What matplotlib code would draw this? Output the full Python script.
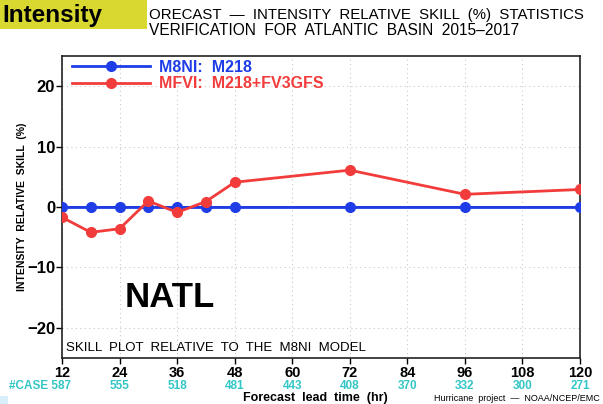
import matplotlib
matplotlib.use("Agg")
import matplotlib.pyplot as plt
from matplotlib.patches import Rectangle

plt.rcParams['font.family'] = ['Liberation Sans', 'DejaVu Sans']

lead_m8ni = [12, 18, 24, 30, 36, 42, 48, 72, 96, 120]
skill_m8ni = [0, 0, 0, 0, 0, 0, 0, 0, 0, 0]
lead_mfvi = [12, 18, 24, 30, 36, 42, 48, 72, 96, 120]
skill_mfvi = [-1.7, -4.2, -3.6, 1.0, -0.9, 0.9, 4.1, 6.1, 2.1, 2.9]
xticks = [12, 24, 36, 48, 60, 72, 84, 96, 108, 120]
cases = ["587", "555", "518", "481", "443", "408", "370", "332", "300", "271"]
yticks = [-20, -10, 0, 10, 20]
ytick_labels = ["\u221220", "\u221210", "0", "10", "20"]

blue = "#1f3de6"
red = "#f23c3c"
cyan = "#33c6c6"

fig = plt.figure(figsize=(6.03, 4.04), dpi=100)
ax = fig.add_axes([62/603, 1-358/404, (580-62)/603, (358-56)/404])

ax.axhline(0, color="#101a80", lw=1.2, zorder=2)
ax.plot(lead_m8ni, skill_m8ni, color=blue, lw=2, marker='o', ms=7, zorder=3,
        label="M8NI:  M218")
ax.plot(lead_mfvi, skill_mfvi, color=red, lw=2, marker='o', ms=7, zorder=4,
        label="MFVI:  M218+FV3GFS")

ax.set_xlim(12, 120)
ax.set_ylim(-25, 25)
ax.set_xticks(xticks)
ax.set_xticklabels([str(x) for x in xticks], fontsize=10.5, fontweight='bold')
ax.set_yticks(yticks)
ax.set_yticklabels(ytick_labels, fontsize=12, fontweight='bold')
ax.tick_params(direction='out', length=4, width=1, pad=1)
ax.tick_params(axis='x', pad=1.5)
ax.grid(True, color="#c8c8c8", ls=(0, (1, 3)), lw=0.8)
for s in ax.spines.values():
    s.set_linewidth(1.2)
    s.set_color("#222222")

leg = ax.legend(loc='upper left', bbox_to_anchor=(0.0, 1.02), frameon=False,
                fontsize=11.5, handlelength=4.9, handletextpad=0.6,
                labelspacing=0.1, borderaxespad=0.2)
for t, c in zip(leg.get_texts(), [blue, red]):
    t.set_color(c)
    t.set_fontweight('bold')

ax.set_ylabel("INTENSITY  RELATIVE  SKILL  (%)", fontsize=7.5, fontweight='bold',
              labelpad=4)
ax.yaxis.set_label_coords(-35/518, 0.5)

fig.text(125/603, 1-307/404, "NATL", fontsize=25, fontweight='bold', ha='left', va='baseline')
fig.text(66/603, 1-351/404, "SKILL  PLOT  RELATIVE  TO  THE  M8NI  MODEL",
         fontsize=9.5, ha='left', va='baseline')

# case counts
for i, (x, c) in enumerate(zip(xticks, cases)):
    px = 62 + (x - 12) / 108 * 518
    if i == 0:
        fig.text(9/603, 1-389/404, "#CASE " + c, color=cyan, fontsize=8.5,
                 fontweight='bold', ha='left', va='baseline')
    else:
        fig.text(px/603, 1-389/404, c, color=cyan, fontsize=8.5,
                 fontweight='bold', ha='center', va='baseline')

fig.text(315/603, 1-401.5/404, "Forecast  lead  time  (hr)", fontsize=9,
         fontweight='bold', ha='center', va='baseline')
fig.text(600/603, 1-401/404, "Hurricane  project  \u2014  NOAA/NCEP/EMC", fontsize=6.5,
         ha='right', va='baseline')

# title
fig.text(149/603, 1-19/404, "ORECAST  \u2014  INTENSITY  RELATIVE  SKILL  (%)  STATISTICS",
         fontsize=10.8, ha='left', va='baseline')
fig.text(149/603, 1-35/404, "VERIFICATION  FOR  ATLANTIC  BASIN  2015\u20132017",
         fontsize=11.2, ha='left', va='baseline')

# yellow label box
fig.patches.append(Rectangle((0, 1-29/404), 147/603, 29/404, transform=fig.transFigure,
                             facecolor="#d8d831", edgecolor='none', zorder=5))
fig.text(2/603, 1-22/404, "Intensity", fontsize=17.5, fontweight='bold',
         ha='left', va='baseline', zorder=6)

fig.patches.append(Rectangle((0, 0), 8/603, 8/404, transform=fig.transFigure,
                             facecolor="#d8eefa", edgecolor='none'))

fig.savefig("out.png", dpi=100)
